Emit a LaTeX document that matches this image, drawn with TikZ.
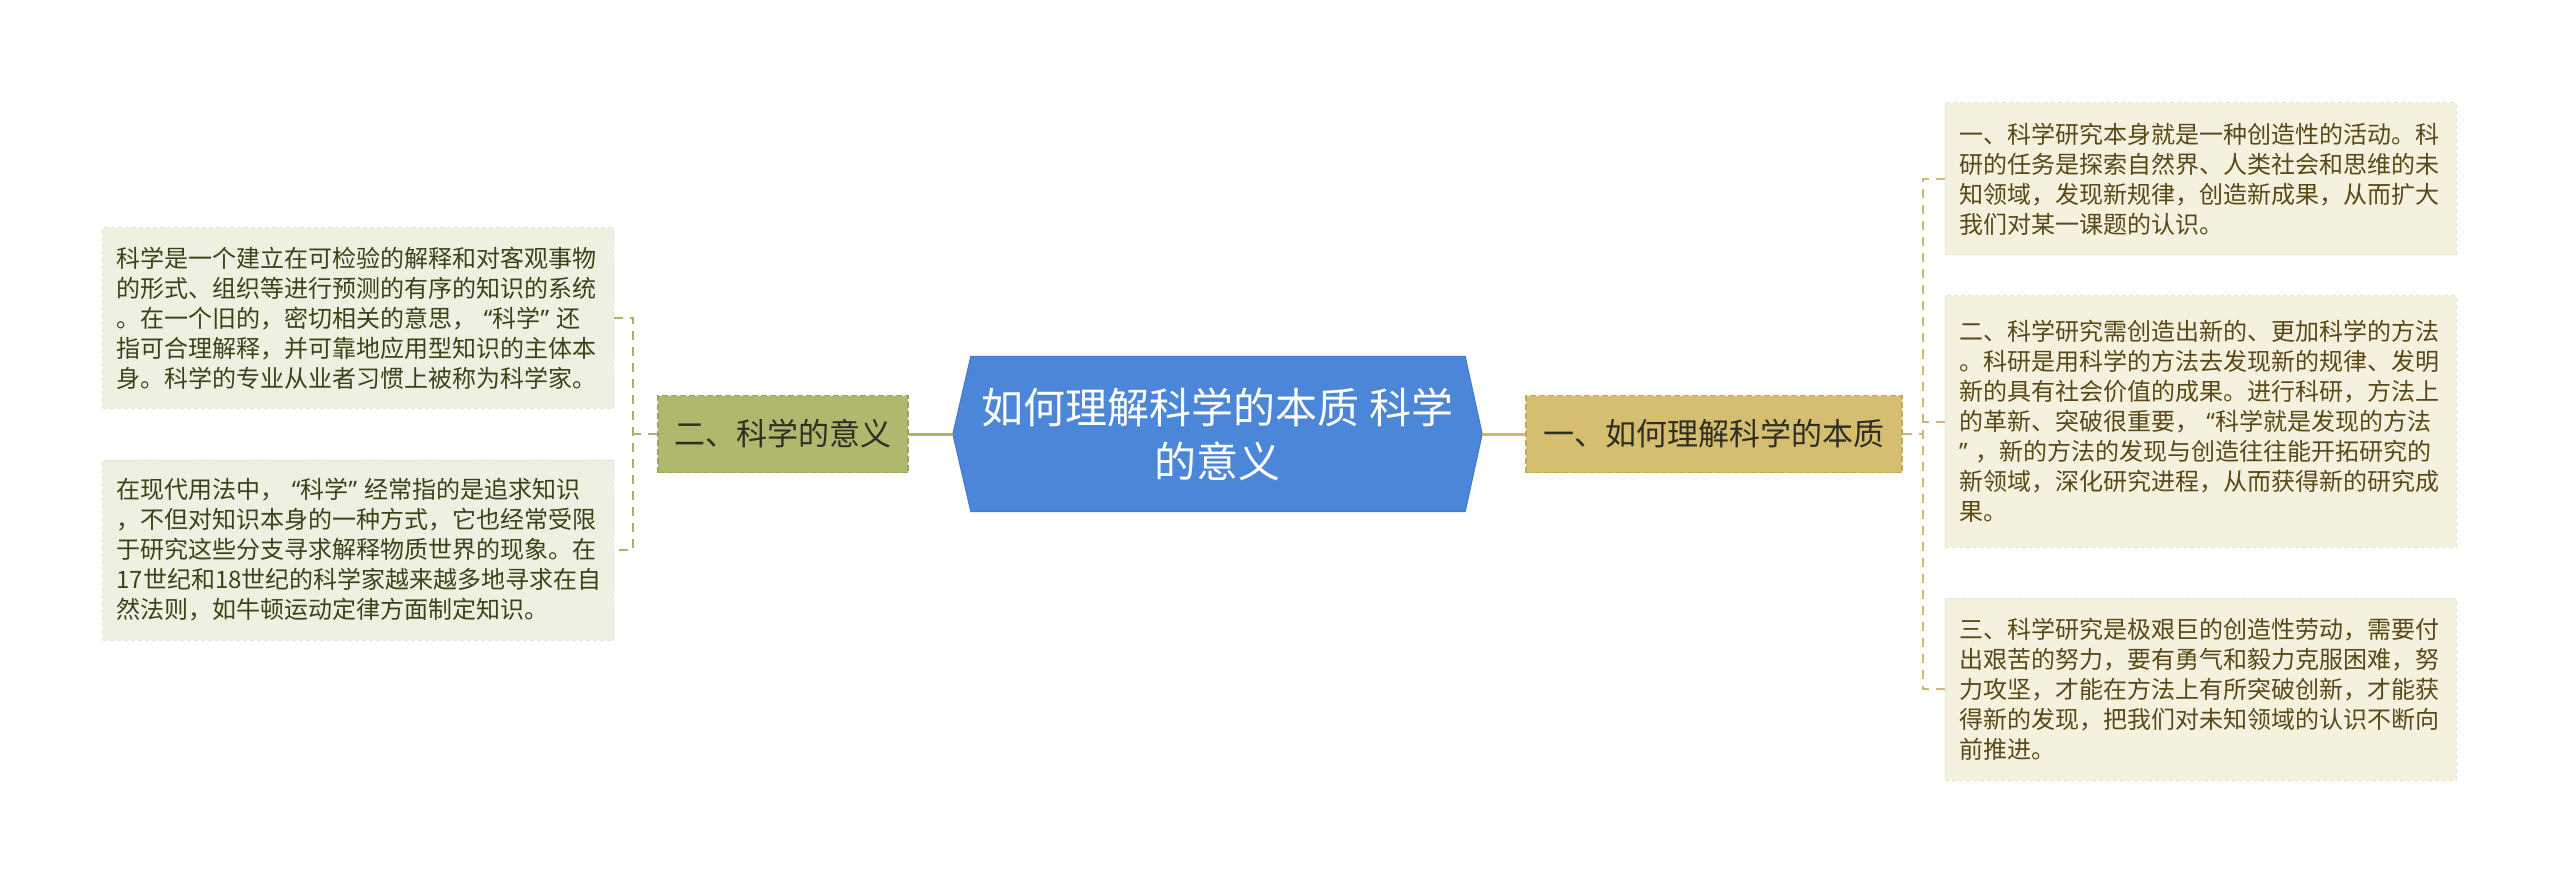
\documentclass[tikz,border=0pt]{standalone}
\usepackage{fontspec}
\setmainfont{Noto Sans CJK SC}
\newfontfamily\latinq{Noto Sans}
\newcommand{\myLQ}{\makebox[16pt][r]{\latinq “}}
\newcommand{\myRQ}{\makebox[16pt][l]{\latinq ”}}
\usetikzlibrary{backgrounds}
\definecolor{cblue}{HTML}{4C86D9}
\definecolor{cblueedge}{HTML}{4479CB}
\definecolor{rfill}{HTML}{D5BE6F}
\definecolor{redge}{HTML}{C2AA5A}
\definecolor{lfill}{HTML}{AFB86C}
\definecolor{ledge}{HTML}{9CA65A}
\definecolor{rleaf}{HTML}{F4F1DE}
\definecolor{rleafedge}{HTML}{E8E3C8}
\definecolor{lleaf}{HTML}{EFF0E1}
\definecolor{lleafedge}{HTML}{E2E4CF}
\definecolor{rtext}{HTML}{5A4916}
\definecolor{ltext}{HTML}{3E4218}
\definecolor{btext}{HTML}{2E2E22}
\definecolor{rline}{HTML}{CDB872}
\definecolor{lline}{HTML}{A9B36B}
\begin{document}
\begin{tikzpicture}[x=1pt,y=-1pt,
  leafbox/.style={inner sep=0pt, minimum width=511pt, text width=483pt, align=left,
    font=\fontsize{24pt}{30pt}\selectfont, line width=1pt, dash pattern=on 4pt off 3pt},
  rleafbox/.style={leafbox, fill=rleaf, draw=rleafedge, text=rtext},
  lleafbox/.style={leafbox, fill=lleaf, draw=lleafedge, text=ltext},
  branchbox/.style={inner sep=0pt, minimum height=77pt, text=btext,
    font=\fontsize{31pt}{38pt}\selectfont, line width=1.5pt, dash pattern=on 6pt off 3pt},
  rconn/.style={draw=rline, line width=3pt},
  lconn/.style={draw=lline, line width=3pt},
  rbracket/.style={draw=rline, line width=2pt, dash pattern=on 9pt off 7pt},
  lbracket/.style={draw=lline, line width=2pt, dash pattern=on 9pt off 7pt}]
\useasboundingbox (0,0) rectangle (2560,885);

% central topic
\node[inner sep=0pt, minimum width=529pt, minimum height=155pt, align=center,
  text=white, font=\fontsize{42pt}{54pt}\selectfont] (c) at (1217.5,434)
  {如何理解科学的本质 科学\\的意义};
\begin{scope}[on background layer]
\fill[white] (0,0) rectangle (2560,885);
\filldraw[fill=cblue, draw=cblueedge, line width=1pt]
  ([xshift=18pt]c.north west) -- ([xshift=-17pt]c.north east) -- (c.east)
  -- ([xshift=-17pt]c.south east) -- ([xshift=18pt]c.south west) -- (c.west) -- cycle;
\end{scope}

% branch nodes
\node[branchbox, fill=rfill, draw=redge, minimum width=376pt] (rb) at (1714,434) {一、如何理解科学的本质};
\node[branchbox, fill=lfill, draw=ledge, minimum width=250pt] (lb) at (783,434) {二、科学的意义};

% right leaves
\node[rleafbox, minimum height=152pt] (R1) at (2200.5,179) {一、科学研究本身就是一种创造性的活动。科\\研的任务是探索自然界、人类社会和思维的未\\知领域，发现新规律，创造新成果，从而扩大\\我们对某一课题的认识。};
\node[rleafbox, minimum height=251pt] (R2) at (2200.5,421.5) {二、科学研究需创造出新的、更加科学的方法\\。科研是用科学的方法去发现新的规律、发明\\新的具有社会价值的成果。进行科研，方法上\\的革新、突破很重要，\myLQ 科学就是发现的方法\\\myRQ，新的方法的发现与创造往往能开拓研究的\\新领域，深化研究进程，从而获得新的研究成\\果。};
\node[rleafbox, minimum height=182pt] (R3) at (2200.5,689) {三、科学研究是极艰巨的创造性劳动，需要付\\出艰苦的努力，要有勇气和毅力克服困难，努\\力攻坚，才能在方法上有所突破创新，才能获\\得新的发现，把我们对未知领域的认识不断向\\前推进。};

% left leaves
\node[lleafbox, minimum height=180pt] (L1) at (358,318) {科学是一个建立在可检验的解释和对客观事物\\的形式、组织等进行预测的有序的知识的系统\\。在一个旧的，密切相关的意思，\myLQ 科学\myRQ 还\\指可合理解释，并可靠地应用型知识的主体本\\身。科学的专业从业者习惯上被称为科学家。};
\node[lleafbox, minimum height=180pt] (L2) at (358,550) {在现代用法中，\myLQ 科学\myRQ 经常指的是追求知识\\，不但对知识本身的一种方式，它也经常受限\\于研究这些分支寻求解释物质世界的现象。在\\17世纪和18世纪的科学家越来越多地寻求在自\\然法则，如牛顿运动定律方面制定知识。};

% connectors centre -> branches
\draw[rconn] (c.east) -- (rb.west);
\draw[lconn] (c.west) -- (lb.east);

% right bracket
\coordinate (rbx) at (1923,434);
\draw[rbracket] (rb.east) -- (rbx);
\draw[rbracket] (R1.west) -| (rbx) |- (R3.west);
\draw[rbracket] (R2.west) -- (R2.west -| rbx);

% left bracket
\coordinate (lbx) at (633,434);
\draw[lbracket] (lb.west) -- (lbx);
\draw[lbracket] (L1.east) -| (lbx) |- (L2.east);
\end{tikzpicture}
\end{document}
